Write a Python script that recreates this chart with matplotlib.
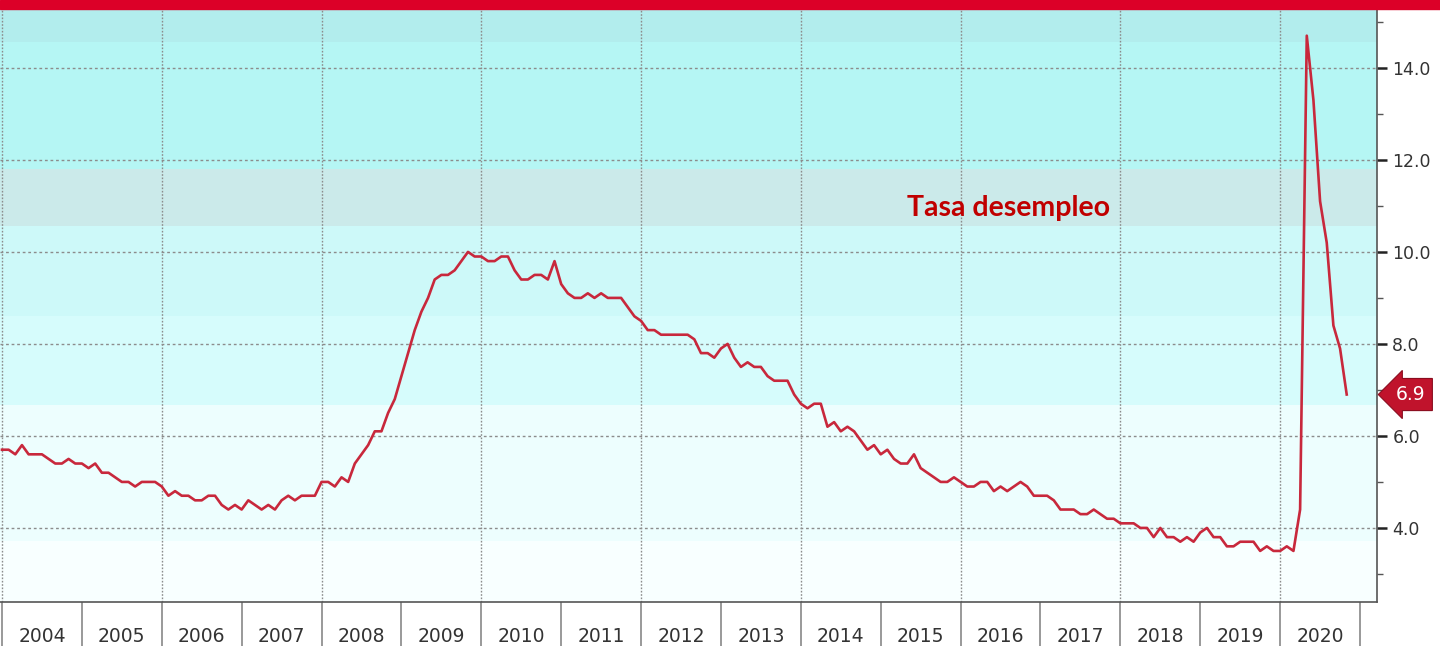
import numpy as np
import matplotlib.pyplot as plt
from matplotlib.ticker import FixedLocator

# US unemployment rate, monthly, Dec 2003 - Oct 2020 (%), plotted at month end
rate_2003 = [5.7]
rate_2004 = [5.7, 5.6, 5.8, 5.6, 5.6, 5.6, 5.5, 5.4, 5.4, 5.5, 5.4, 5.4]
rate_2005 = [5.3, 5.4, 5.2, 5.2, 5.1, 5.0, 5.0, 4.9, 5.0, 5.0, 5.0, 4.9]
rate_2006 = [4.7, 4.8, 4.7, 4.7, 4.6, 4.6, 4.7, 4.7, 4.5, 4.4, 4.5, 4.4]
rate_2007 = [4.6, 4.5, 4.4, 4.5, 4.4, 4.6, 4.7, 4.6, 4.7, 4.7, 4.7, 5.0]
rate_2008 = [5.0, 4.9, 5.1, 5.0, 5.4, 5.6, 5.8, 6.1, 6.1, 6.5, 6.8, 7.3]
rate_2009 = [7.8, 8.3, 8.7, 9.0, 9.4, 9.5, 9.5, 9.6, 9.8, 10.0, 9.9, 9.9]
rate_2010 = [9.8, 9.8, 9.9, 9.9, 9.6, 9.4, 9.4, 9.5, 9.5, 9.4, 9.8, 9.3]
rate_2011 = [9.1, 9.0, 9.0, 9.1, 9.0, 9.1, 9.0, 9.0, 9.0, 8.8, 8.6, 8.5]
rate_2012 = [8.3, 8.3, 8.2, 8.2, 8.2, 8.2, 8.2, 8.1, 7.8, 7.8, 7.7, 7.9]
rate_2013 = [8.0, 7.7, 7.5, 7.6, 7.5, 7.5, 7.3, 7.2, 7.2, 7.2, 6.9, 6.7]
rate_2014 = [6.6, 6.7, 6.7, 6.2, 6.3, 6.1, 6.2, 6.1, 5.9, 5.7, 5.8, 5.6]
rate_2015 = [5.7, 5.5, 5.4, 5.4, 5.6, 5.3, 5.2, 5.1, 5.0, 5.0, 5.1, 5.0]
rate_2016 = [4.9, 4.9, 5.0, 5.0, 4.8, 4.9, 4.8, 4.9, 5.0, 4.9, 4.7, 4.7]
rate_2017 = [4.7, 4.6, 4.4, 4.4, 4.4, 4.3, 4.3, 4.4, 4.3, 4.2, 4.2, 4.1]
rate_2018 = [4.1, 4.1, 4.0, 4.0, 3.8, 4.0, 3.8, 3.8, 3.7, 3.8, 3.7, 3.9]
rate_2019 = [4.0, 3.8, 3.8, 3.6, 3.6, 3.7, 3.7, 3.7, 3.5, 3.6, 3.5, 3.5]
rate_2020 = [3.6, 3.5, 4.4, 14.7, 13.3, 11.1, 10.2, 8.4, 7.9, 6.9]

rates = (rate_2003 + rate_2004 + rate_2005 + rate_2006 + rate_2007 + rate_2008
         + rate_2009 + rate_2010 + rate_2011 + rate_2012 + rate_2013 + rate_2014
         + rate_2015 + rate_2016 + rate_2017 + rate_2018 + rate_2019 + rate_2020)
years = list(range(2004, 2021))
last_value = rates[-1]
series_label = "Tasa desempleo"

x = 2004 + np.arange(len(rates)) / 12.0

fig = plt.figure(figsize=(14.4, 6.46), dpi=100)
fig.patch.set_facecolor("white")

# red bar across the top
fig.add_artist(plt.Rectangle((0, 1 - 9 / 646), 1, 9 / 646, transform=fig.transFigure,
                             color="#dc0028", zorder=5))

ax = fig.add_axes([0.0, 44 / 646, 1377 / 1440, 593 / 646])
ax.set_xlim(2004 - 2 / 80, 2021 + 17 / 80)
ax.set_ylim(2.39, 15.28)

# banded background
bands = [
    (2.39, 3.72, "#f8ffff"),
    (3.72, 6.67, "#edfefe"),
    (6.67, 8.6, "#d6fcfc"),
    (8.6, 10.57, "#cdf9f9"),
    (10.57, 11.80, "#cbeaea"),
    (11.80, 14.57, "#b5f6f4"),
    (14.57, 15.28, "#b2eded"),
]
for lo, hi, c in bands:
    ax.axhspan(lo, hi, color=c, lw=0, zorder=0)

# grid
for yv in [4, 6, 8, 10, 12, 14]:
    ax.axhline(yv, color="#8c8c8c", lw=1, ls=(0, (2, 2)), zorder=1)
for xv in range(2004, 2021, 2):
    ax.axvline(xv, color="#8c8c8c", lw=1, ls=(0, (1.2, 1.2)), zorder=1)

ax.plot(x, rates, color="#c8283c", lw=1.9, zorder=3, solid_joinstyle="round")

# axes styling
ax.spines["top"].set_visible(False)
ax.spines["left"].set_visible(False)
ax.spines["right"].set_color("#555555")
ax.spines["bottom"].set_color("#555555")
ax.spines["right"].set_linewidth(1.2)
ax.spines["bottom"].set_linewidth(1.2)

ax.yaxis.tick_right()
ax.yaxis.set_major_locator(FixedLocator([4, 6, 8, 10, 12, 14]))
ax.yaxis.set_minor_locator(FixedLocator([3, 5, 7, 9, 11, 13, 15]))
ax.set_yticklabels([f"{v:.1f}" for v in [4, 6, 8, 10, 12, 14]])
ax.tick_params(axis="y", which="major", length=7, width=1.8, color="#222222",
               labelsize=12.5, labelcolor="#333333", pad=4)
ax.tick_params(axis="y", which="minor", length=4, width=1, color="#555555")

# year boundaries as long ticks, labels centred in each year
ax.xaxis.set_major_locator(FixedLocator(years + [2021]))
ax.xaxis.set_minor_locator(FixedLocator([y + 0.5 for y in years]))
ax.xaxis.set_major_formatter(plt.NullFormatter())
ax.xaxis.set_minor_formatter(plt.FixedFormatter([str(y) for y in years]))
ax.tick_params(axis="x", which="major", length=32, width=1.2, color="#888888")
ax.tick_params(axis="x", which="minor", length=0, labelsize=13.5,
               labelcolor="#333333", pad=18)

# series title
ax.text(2016.6, 10.96, series_label, color="#c00000", fontsize=20.5,
        fontweight="bold", family=["Lato", "DejaVu Sans"], ha="center",
        va="center", zorder=4)

# last value tag
ax.annotate(f"{last_value:.1f}", xy=(1.0, last_value),
            xycoords=("axes fraction", "data"), xytext=(34, 0),
            textcoords="offset pixels", ha="center", va="center",
            color="white", fontsize=13.5, annotation_clip=False,
            bbox=dict(boxstyle="larrow,pad=0.35", fc="#c0132c", ec="#8a0c1e", lw=0.8))

fig.savefig("out.png", dpi=100)
